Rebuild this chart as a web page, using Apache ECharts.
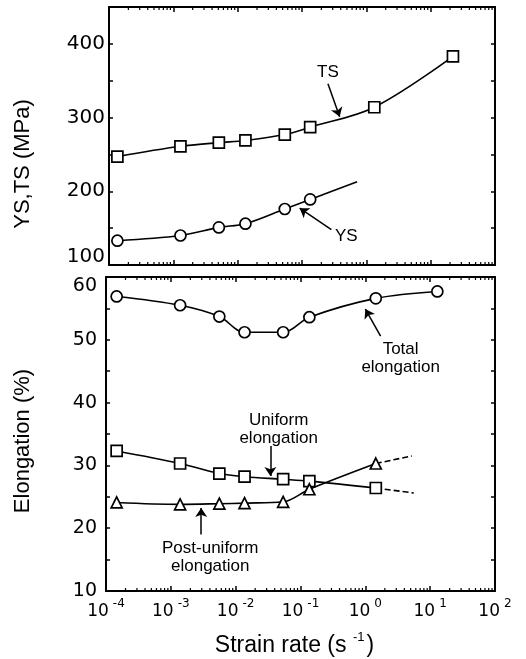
<!DOCTYPE html>
<html><head><meta charset="utf-8">
<script src="https://cdn.jsdelivr.net/npm/echarts@6/dist/echarts.min.js"></script>
<style>html,body{margin:0;padding:0;background:#fff}#c{width:526px;height:659px}</style>
</head><body><div id="c"></div>
<script>
// ---------- DATA ----------
// Top panel: strength (MPa) vs strain rate (s^-1)
const rateTop = [1.35e-4, 1.29e-3, 5.1e-3, 1.32e-2, 5.4e-2, 0.134, 1.33, 22.2];
const tsValues = [247, 261, 266, 269, 277, 287, 314, 383];
const rateYS = [1.35e-4, 1.29e-3, 5.1e-3, 1.32e-2, 5.4e-2, 0.134, 0.72];
const ysValues = [133, 140, 151, 156, 176, 189, 213];
const ysMarked = [true, true, true, true, true, true, false];

// Bottom panel: elongation (%) vs strain rate (s^-1)
const rateBottom = [1.46e-4, 1.39e-3, 5.6e-3, 1.37e-2, 5.4e-2, 0.137, 1.45, 12.9];
const totalElong = [56.9, 55.5, 53.7, 51.2, 51.2, 53.6, 56.6, 57.7];
const uniformElong = [32.3, 30.3, 28.7, 28.2, 27.8, 27.5, 26.4];
const postUniformElong = [24.1, 23.8, 23.9, 24.0, 24.2, 26.2, 30.3];
const uniformExtRate = [1.45, 5.6];
const uniformExt = [26.4, 25.6];
const postExtRate = [1.45, 5.2];
const postExt = [30.3, 31.5];

// Tick labels
const yTopLabels = [100, 200, 300, 400];
const yBottomLabels = [10, 20, 30, 40, 50, 60];
const decadeExponents = [-4, -3, -2, -1, 0, 1, 2];

// Annotations (data coordinates)
const annTS = {text: 'TS', at: [0.253, 361], from: [0.253, 346], to: [0.385, 301]};
const annYS = {text: 'YS', at: [0.489, 139], from: [0.286, 148], to: [0.092, 177]};
const annTotal = {text: 'Total\nelongation', at: [3.5, 47.0], from: [1.72, 50.6], to: [1.0, 54.9]};
const annUniform = {text: 'Uniform\nelongation', at: [0.046, 35.7], from: [0.0343, 33.1], to: [0.0343, 28.3]};
const annPost = {text: 'Post-uniform\nelongation', at: [4.05e-3, 15.3], from: [2.94e-3, 19.0], to: [2.94e-3, 23.2]};

// ---------- CHART ----------
const FONT = 'Liberation Sans, Arial, Helvetica, sans-serif';
const TICKFONT = 'DejaVu Sans, sans-serif';
const zip = (xs, ys) => xs.map((x, i) => [x, ys[i]]);

// log minor tick positions (2..9 x 10^n) inside each decade
const minorTickVals = [];
decadeExponents.slice(0, -1).forEach(e => {
  for (let k = 2; k <= 9; k++) minorTickVals.push(+(k * Math.pow(10, e)).toPrecision(3));
});

function minorTickRenderer(len) {
  return function (params, api) {
    const cs = params.coordSys;
    const x = api.coord([api.value(0), api.value(1)])[0];
    const style = {stroke: '#000', lineWidth: 1.2};
    return {type: 'group', children: [
      {type: 'line', shape: {x1: x, y1: cs.y + cs.height, x2: x, y2: cs.y + cs.height - len}, style},
      {type: 'line', shape: {x1: x, y1: cs.y, x2: x, y2: cs.y + len}, style}
    ]};
  };
}

const axisLine = {show: true, lineStyle: {color: '#000', width: 2}};
function xAxis(gridIndex, position, showLabel) {
  return {
    type: 'log', logBase: 10, min: 1e-4, max: 100, gridIndex, position,
    axisLine, splitLine: {show: false},
    axisTick: {show: true, inside: true, length: 5, lineStyle: {color: '#000', width: 1.5}},
    axisLabel: {
      show: showLabel, margin: 7, color: '#000',
      formatter: v => '{b|10}{s|' + Math.round(Math.log10(v)) + '}',
      rich: {
        b: {fontSize: 17, fontFamily: TICKFONT, color: '#000', verticalAlign: 'bottom', lineHeight: 22},
        s: {fontSize: 12, fontFamily: TICKFONT, color: '#000', verticalAlign: 'top', lineHeight: 22, padding: [0, 0, 0, 4]}
      }
    },
    name: showLabel ? '{n|Strain rate (s }{s|-1}{n|)}' : '',
    nameLocation: 'middle', nameGap: 40,
    nameTextStyle: {
      padding: [0, 12, 0, 0],
      rich: {
        n: {fontSize: 23, fontFamily: FONT, color: '#000', verticalAlign: 'bottom', lineHeight: 26},
        s: {fontSize: 13, fontFamily: FONT, color: '#000', verticalAlign: 'top', lineHeight: 26, padding: [0, 2, 0, 0]}
      }
    }
  };
}
function yAxis(gridIndex, position, min, max, interval, labels, labelSize, margin, shiftVal, shiftPad, name, nameGap, namePad) {
  const show = position === 'left';
  return {
    type: 'value', gridIndex, position, min, max, interval,
    axisLine, splitLine: {show: false},
    axisTick: {show: true, inside: true, length: 4, lineStyle: {color: '#000', width: 1.5}},
    axisLabel: {
      show, margin, color: '#000', fontSize: labelSize, fontFamily: TICKFONT,
      formatter: v => labels.indexOf(v) < 0 ? '' : (v === shiftVal ? '{sh|' + v + '}' : String(v)),
      rich: {sh: {fontSize: labelSize, fontFamily: TICKFONT, color: '#000', padding: shiftPad}}
    },
    name: show ? name : '', nameLocation: 'middle', nameGap, nameRotate: 90,
    nameTextStyle: {fontSize: 22, fontFamily: FONT, color: '#000', padding: namePad || 0}
  };
}

function annotation(a) {
  return {
    markLine: {
      silent: true, animation: false, symbol: ['none', 'arrow'], symbolSize: 9,
      lineStyle: {color: '#000', width: 1.5, type: 'solid'}, label: {show: false},
      emphasis: {disabled: true},
      data: [[{coord: a.from}, {coord: a.to}]]
    },
    markPoint: {
      silent: true, animation: false, symbol: 'circle', symbolSize: 1,
      itemStyle: {color: 'rgba(0,0,0,0)'},
      label: {show: true, position: 'inside', formatter: a.text, color: '#000',
              fontSize: 17, lineHeight: 18, fontFamily: FONT, align: 'center'},
      data: [{coord: a.at}]
    }
  };
}

function lineSeries(name, xi, yi, data, symbol, size, extra) {
  return Object.assign({
    name, type: 'line', xAxisIndex: xi, yAxisIndex: yi, data,
    smooth: 0.35, symbol, symbolSize: size, showSymbol: true,
    lineStyle: {color: '#000', width: 1.6},
    itemStyle: {color: '#fff', borderColor: '#000', borderWidth: 1.7},
    z: 3
  }, extra || {});
}

const chart = echarts.init(document.getElementById('c'), null, {renderer: 'canvas'});
chart.setOption({
  animation: false,
  backgroundColor: '#fff',
  grid: [
    {left: 109, right: 31, top: 7, height: 258},
    {left: 106, right: 31, top: 277, height: 314}
  ],
  xAxis: [
    xAxis(0, 'bottom', false),
    xAxis(0, 'top', false),
    xAxis(1, 'bottom', true),
    xAxis(1, 'top', false)
  ],
  yAxis: [
    yAxis(0, 'left', 100, 450, 50, yTopLabels, 20, 4, 100, [0, 0, 16, 0], 'YS,TS (MPa)', 75, [0, 56, 0, 0]),
    yAxis(0, 'right', 100, 450, 50, yTopLabels, 20, 4, null, 0, '', 0),
    yAxis(1, 'left', 10, 60, 5, yBottomLabels, 19, 9, 60, [19, 0, 0, 0], 'Elongation (%)', 72, [0, 14, 0, 0]),
    yAxis(1, 'right', 10, 60, 5, yBottomLabels, 19, 9, null, 0, '', 0)
  ],
  series: [
    {type: 'custom', xAxisIndex: 0, yAxisIndex: 0, silent: true, z: 1,
     data: minorTickVals.map(v => [v, 100]), renderItem: minorTickRenderer(3)},
    {type: 'custom', xAxisIndex: 2, yAxisIndex: 2, silent: true, z: 1,
     data: minorTickVals.map(v => [v, 10]), renderItem: minorTickRenderer(3)},
    lineSeries('TS', 0, 0, zip(rateTop, tsValues), 'rect', 11, annotation(annTS)),
    lineSeries('YS', 0, 0, zip(rateYS, ysValues).map((p, i) => ysMarked[i] ? p : {value: p, symbol: 'none'}),
               'circle', 11, annotation(annYS)),
    lineSeries('Total elongation', 2, 2, zip(rateBottom, totalElong), 'circle', 11, annotation(annTotal)),
    lineSeries('Uniform elongation', 2, 2, zip(rateBottom.slice(0, 7), uniformElong), 'rect', 11,
               Object.assign({z: 4}, annotation(annUniform))),
    lineSeries('Uniform ext', 2, 2, zip(uniformExtRate, uniformExt), 'none', 0,
               {smooth: false, z: 2, lineStyle: {color: '#000', width: 1.6, type: [6, 3]}}),
    lineSeries('Post-uniform elongation', 2, 2, zip(rateBottom.slice(0, 7), postUniformElong), 'triangle', 11,
               Object.assign({z: 5}, annotation(annPost))),
    lineSeries('Post ext', 2, 2, zip(postExtRate, postExt), 'none', 0,
               {smooth: false, z: 2, lineStyle: {color: '#000', width: 1.6, type: [6, 3]}})
  ]
});
</script>
</body></html>
